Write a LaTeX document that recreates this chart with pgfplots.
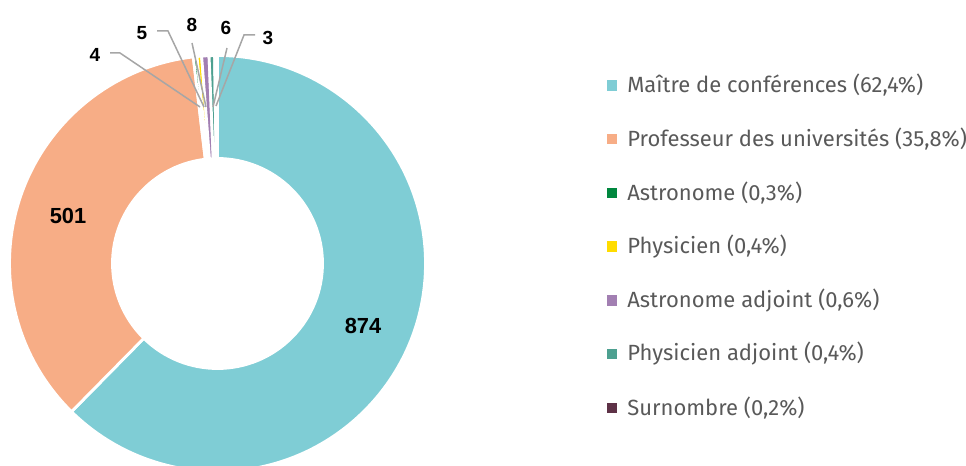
\documentclass[border=0pt]{standalone}
\usepackage{pgfplots}
\usepackage{pgfplotstable}
\pgfplotsset{compat=1.18}
\usepackage{fontspec}
\setmainfont{Fira Sans}
\newfontfamily\labelfont{Liberation Sans}

\definecolor{cMaitre}{HTML}{7FCDD5}
\definecolor{cProf}{HTML}{F7AD86}
\definecolor{cAstro}{HTML}{00873E}
\definecolor{cPhys}{HTML}{FFDC00}
\definecolor{cAstroAdj}{HTML}{A27FB2}
\definecolor{cPhysAdj}{HTML}{4DA090}
\definecolor{cSurn}{HTML}{5E3247}
\definecolor{legtext}{HTML}{595959}
\definecolor{leader}{HTML}{A6A6A6}

% effectifs par corps; lx/ly = position of the value label (pixels of the 966x465 frame, y up), ls = label size (pt)
\pgfplotstableread[col sep=semicolon]{
name;value;color;lx;ly;ls
Maître de conférences;874;cMaitre;363;139.5;13.1
Professeur des universités;501;cProf;68;249.5;13.1
Astronome;4;cAstro;95;410;11.4
Physicien;5;cPhys;142;432;11.4
Astronome adjoint;8;cAstroAdj;192;440;11.4
Physicien adjoint;6;cPhysAdj;226;437;11.4
Surnombre;3;cSurn;268;427;11.4
}\effectifs

\newcommand\cx{217.5}
\newcommand\cy{201.5}

\begin{document}
\begin{tikzpicture}
\begin{axis}[
  x=0.6pt, y=0.6pt,
  xmin=0, xmax=966, ymin=0, ymax=465,
  hide axis, clip=false,
  /pgf/number format/assume math mode=true,
]
\pgfplotsextra{
  \pgfplotstablegetrowsof{\effectifs}
  \pgfmathtruncatemacro{\nlast}{\pgfplotsretval-1}
  \gdef\total{0}
  \foreach \i in {0,...,\nlast}{
    \pgfplotstablegetelem{\i}{value}\of{\effectifs}
    \pgfmathsetmacro{\tmpsum}{\total+\pgfplotsretval}
    \xdef\total{\tmpsum}
  }
  \begin{scope}
    \clip (axis cs:0,0) rectangle (axis cs:966,465);
    \gdef\startang{90}
    \foreach \i in {0,...,\nlast}{
      \pgfplotstablegetelem{\i}{value}\of{\effectifs}
      \let\val\pgfplotsretval
      \pgfplotstablegetelem{\i}{color}\of{\effectifs}
      \let\col\pgfplotsretval
      \pgfmathsetmacro{\endang}{\startang-\val/\total*360}
      \pgfmathsetmacro{\backang}{\endang+180}
      \filldraw[fill=\col, draw=white, line width=1.7pt, line join=miter]
        (axis cs:\cx,\cy) ++(\startang:124.8pt)
        arc[start angle=\startang, end angle=\endang, radius=124.8pt]
        -- ++(\backang:61.8pt)
        arc[start angle=\endang, end angle=\startang, radius=63pt] -- cycle;
      \xdef\startang{\endang}
    }
  \end{scope}
  % leader lines of the small slices
  \draw[leader, line width=0.9pt] (axis cs:110,412) -- (axis cs:120,412) -- (axis cs:200,358);
  \draw[leader, line width=0.9pt] (axis cs:157,434) -- (axis cs:168,434) -- (axis cs:204,358);
  \draw[leader, line width=0.9pt] (axis cs:192,422) -- (axis cs:206,358);
  \draw[leader, line width=0.9pt] (axis cs:227,417) -- (axis cs:213,358);
  \draw[leader, line width=0.9pt] (axis cs:255,430) -- (axis cs:244,430) -- (axis cs:216,359);
  % value labels and legend
  \foreach \i in {0,...,\nlast}{
    \pgfplotstablegetelem{\i}{value}\of{\effectifs}
    \let\val\pgfplotsretval
    \pgfplotstablegetelem{\i}{lx}\of{\effectifs}
    \let\lx\pgfplotsretval
    \pgfplotstablegetelem{\i}{ly}\of{\effectifs}
    \let\ly\pgfplotsretval
    \pgfplotstablegetelem{\i}{ls}\of{\effectifs}
    \let\ls\pgfplotsretval
    \pgfplotstablegetelem{\i}{name}\of{\effectifs}
    \let\nm\pgfplotsretval
    \pgfplotstablegetelem{\i}{color}\of{\effectifs}
    \let\col\pgfplotsretval
    \node[font=\labelfont\bfseries\fontsize{\ls}{\ls}\selectfont, text=black, inner sep=0pt]
      at (axis cs:\lx,\ly) {\val};
    \pgfmathsetmacro{\pct}{\val/\total*100}
    \pgfmathsetmacro{\ry}{465-85.5-53.7*\i}
    \pgfmathsetmacro{\ryl}{\ry-5.2}
    \pgfmathsetmacro{\ryh}{\ry+5.2}
    \fill[\col] (axis cs:606.8,\ryl) rectangle (axis cs:617.2,\ryh);
    \node[anchor=west, inner sep=0pt, text=legtext, font=\fontsize{13.2}{15}\selectfont]
      at (axis cs:627,\ry) {\nm\ (\pgfmathprintnumber[fixed,fixed zerofill,precision=1,use comma]{\pct}\%)};
  }
}
\end{axis}
\pgfresetboundingbox
\useasboundingbox (0,0) rectangle (579.6pt,279pt);
\end{tikzpicture}
\end{document}
